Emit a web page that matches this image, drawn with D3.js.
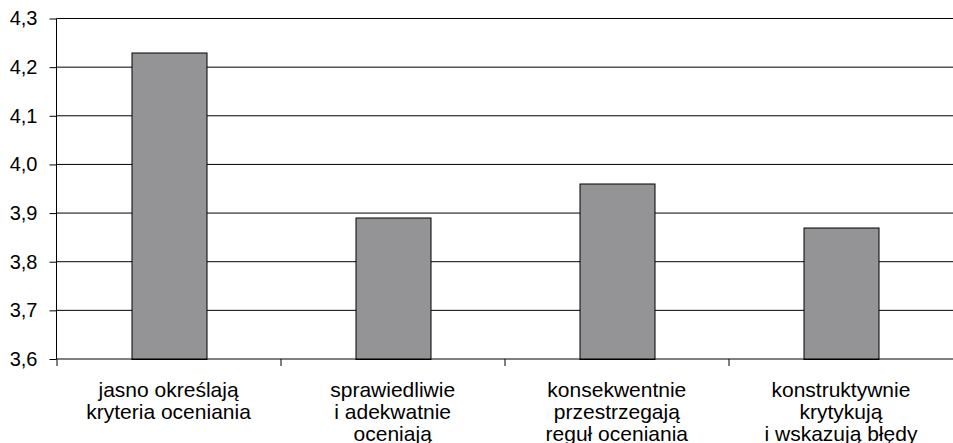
<!DOCTYPE html>
<html>
<head>
<meta charset="utf-8">
<script src="https://cdn.jsdelivr.net/npm/d3@7"></script>
<style>
  body { margin: 0; background: #fff; }
  text { font-family: "Liberation Sans", Arial, sans-serif; }
</style>
</head>
<body>
<div id="chart"></div>
<script>
// data
const categories = [
  ["jasno określają", "kryteria oceniania"],
  ["sprawiedliwie", "i adekwatnie", "oceniają"],
  ["konsekwentnie", "przestrzegają", "reguł oceniania"],
  ["konstruktywnie", "krytykują", "i wskazują błędy"]
];
const values = [4.23, 3.89, 3.96, 3.87];
const yTicks = [3.6, 3.7, 3.8, 3.9, 4.0, 4.1, 4.2, 4.3];

const W = 953, H = 443;
const margin = {top: 18.5, right: 0, bottom: 84, left: 56.5};
const width = W - margin.left - margin.right,
      height = H - margin.top - margin.bottom;

const svg = d3.select("#chart").append("svg")
    .attr("width", W).attr("height", H)
  .append("g")
    .attr("transform", `translate(${margin.left},${margin.top})`);

const x = d3.scaleBand()
  .domain(d3.range(categories.length))
  .range([0, width])
  .paddingInner(0.665)
  .paddingOuter(0.3325);

const y = d3.scaleLinear()
  .domain([3.6, 4.3])
  .range([height, 0]);

// gridlines
svg.append("g")
  .selectAll("line")
  .data(yTicks.slice(1))
  .enter().append("line")
    .attr("x1", 0).attr("x2", width)
    .attr("y1", d => y(d)).attr("y2", d => y(d))
    .attr("stroke", "#000").attr("stroke-width", 1);

// bars
svg.selectAll(".bar")
  .data(values)
  .enter().append("rect")
    .attr("x", (d, i) => Math.round(x(i)) + 0.5)
    .attr("y", d => Math.round(y(d)) + 0.5)
    .attr("width", Math.round(x.bandwidth()))
    .attr("height", d => height - Math.round(y(d)))
    .attr("fill", "#949497")
    .attr("stroke", "#000")
    .attr("stroke-width", 1);

// y axis
const yAxis = svg.append("g")
  .call(d3.axisLeft(y).tickValues(yTicks).tickSize(7).tickPadding(12)
    .tickFormat(d => d3.format(".1f")(d).replace(".", ",")));
yAxis.select(".domain").attr("stroke", "#000").attr("d", `M0,0V${height}`);
yAxis.selectAll("text")
  .style("font-size", "20px")
  .style("font-family", "'Liberation Sans', Arial, sans-serif")
  .attr("fill", "#000");

// x axis with ticks between categories
const xAxis = svg.append("g").attr("transform", `translate(0,${height})`);
xAxis.append("line")
  .attr("x1", 0).attr("x2", width)
  .attr("stroke", "#000");
const step = width / categories.length;
xAxis.selectAll(".sep")
  .data(d3.range(0, categories.length + 1))
  .enter().append("line")
    .attr("x1", d => Math.round(d * step) + 0.5)
    .attr("x2", d => Math.round(d * step) + 0.5)
    .attr("y1", 0).attr("y2", 7)
    .attr("stroke", "#000");

xAxis.selectAll(".lbl")
  .data(categories)
  .enter().append("text")
    .attr("text-anchor", "middle")
    .attr("font-size", "21px")
    .attr("fill", "#000")
    .attr("transform", (d, i) => `translate(${x(i) + x.bandwidth() / 2},0)`)
    .selectAll("tspan")
    .data(d => d)
    .enter().append("tspan")
      .attr("x", 0)
      .attr("y", (d, j) => 38 + j * 22)
      .text(d => d);
</script>
</body>
</html>
